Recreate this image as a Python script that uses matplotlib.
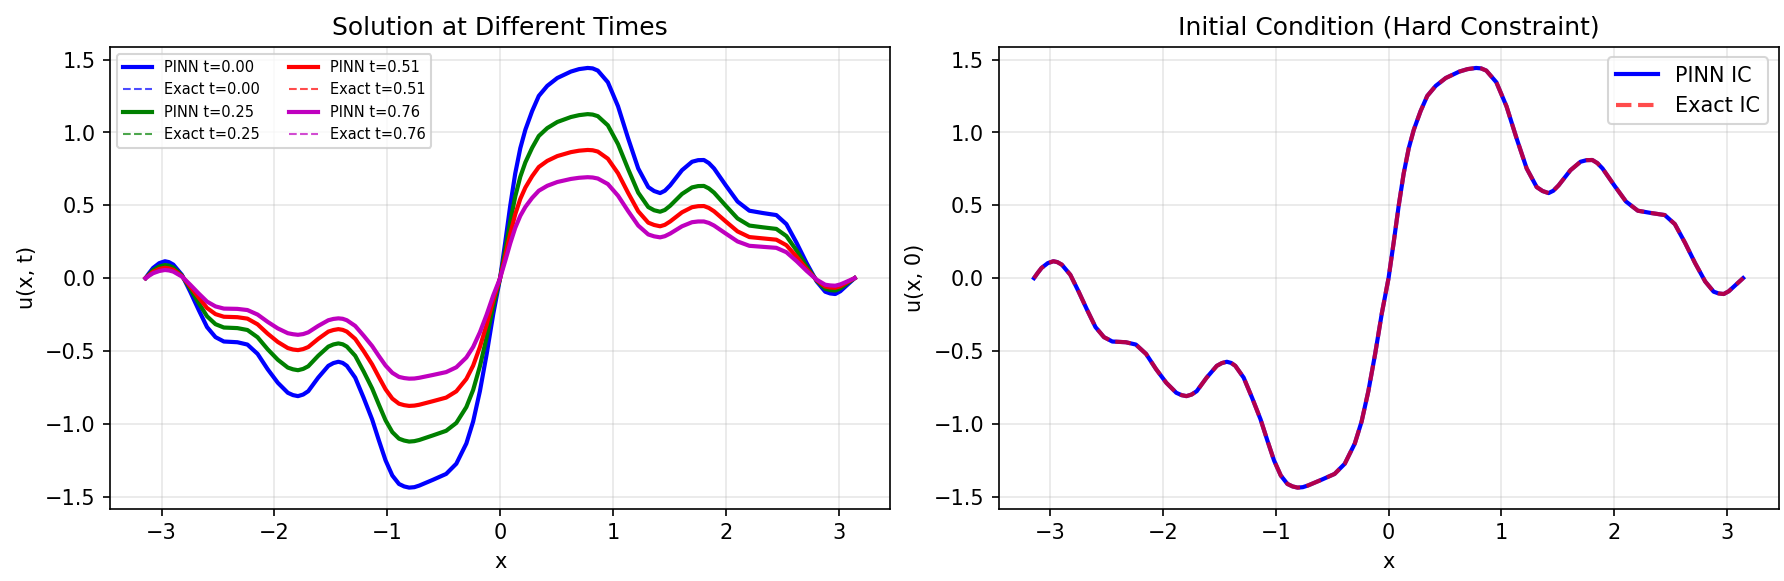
import numpy as np
import matplotlib
matplotlib.use("Agg")
import matplotlib.pyplot as plt

# x grid
x = [-3.142, -3.11, -3.075, -3.02, -2.97, -2.935, -2.896, -2.82, -2.746, -2.67,
     -2.597, -2.522, -2.448, -2.328, -2.239, -2.149, -2.06, -1.97, -1.881, -1.835,
     -1.791, -1.745, -1.70, -1.612, -1.522, -1.477, -1.433, -1.395, -1.358, -1.284,
     -1.209, -1.134, -1.075, -1.015, -0.955, -0.896, -0.85, -0.806, -0.76, -0.716,
     -0.597, -0.478, -0.388, -0.299, -0.239, -0.179, -0.119, -0.06, 0.0, 0.045,
     0.09, 0.134, 0.179, 0.224, 0.284, 0.343, 0.418, 0.507, 0.627, 0.70,
     0.776, 0.82, 0.866, 0.955, 1.045, 1.134, 1.224, 1.313, 1.365, 1.418,
     1.46, 1.507, 1.612, 1.701, 1.755, 1.806, 1.85, 1.896, 2.0, 2.104,
     2.209, 2.328, 2.448, 2.537, 2.627, 2.716, 2.806, 2.881, 2.925, 2.97,
     3.015, 3.06, 3.142]

# u(x, t) at t = 0.00 (also the initial condition)
u_t000 = [0.0, 0.035, 0.07, 0.103, 0.116, 0.110, 0.093, 0.023, -0.093, -0.22,
          -0.336, -0.405, -0.435, -0.44, -0.456, -0.52, -0.625, -0.718, -0.787, -0.803,
          -0.81, -0.799, -0.776, -0.683, -0.602, -0.583, -0.574, -0.582, -0.602, -0.683,
          -0.822, -0.97, -1.112, -1.251, -1.355, -1.413, -1.430, -1.438, -1.435, -1.424,
          -1.385, -1.344, -1.274, -1.135, -0.985, -0.776, -0.521, -0.243, 0.0, 0.243,
          0.498, 0.718, 0.892, 1.019, 1.147, 1.251, 1.320, 1.374, 1.418, 1.435,
          1.443, 1.440, 1.425, 1.345, 1.180, 0.961, 0.753, 0.625, 0.598, 0.584,
          0.600, 0.637, 0.741, 0.799, 0.81, 0.811, 0.79, 0.753, 0.637, 0.526,
          0.463, 0.447, 0.433, 0.371, 0.243, 0.104, -0.023, -0.093, -0.105, -0.109,
          -0.09, -0.058, 0.0]

# t = 0.25
u_t025 = [0.0, 0.027, 0.055, 0.080, 0.09, 0.086, 0.073, 0.018, -0.073, -0.172,
          -0.262, -0.316, -0.339, -0.343, -0.356, -0.406, -0.488, -0.56, -0.614, -0.626,
          -0.632, -0.623, -0.605, -0.533, -0.47, -0.455, -0.448, -0.454, -0.47, -0.533,
          -0.641, -0.757, -0.867, -0.976, -1.057, -1.102, -1.115, -1.122, -1.119, -1.111,
          -1.08, -1.048, -0.994, -0.885, -0.768, -0.605, -0.406, -0.19, 0.0, 0.19,
          0.388, 0.56, 0.696, 0.795, 0.895, 0.976, 1.03, 1.072, 1.106, 1.119,
          1.126, 1.123, 1.112, 1.049, 0.92, 0.75, 0.587, 0.488, 0.466, 0.456,
          0.468, 0.497, 0.578, 0.623, 0.632, 0.633, 0.616, 0.587, 0.497, 0.41,
          0.361, 0.349, 0.338, 0.289, 0.19, 0.081, -0.018, -0.073, -0.082, -0.085,
          -0.07, -0.045, 0.0]

# t = 0.51
u_t051 = [0.0, 0.021, 0.043, 0.063, 0.071, 0.067, 0.057, 0.014, -0.057, -0.134,
          -0.205, -0.247, -0.265, -0.268, -0.278, -0.317, -0.381, -0.438, -0.48, -0.49,
          -0.494, -0.487, -0.473, -0.417, -0.367, -0.356, -0.35, -0.355, -0.367, -0.417,
          -0.501, -0.592, -0.678, -0.763, -0.827, -0.862, -0.872, -0.877, -0.875, -0.869,
          -0.845, -0.82, -0.777, -0.692, -0.601, -0.473, -0.318, -0.148, 0.0, 0.148,
          0.304, 0.438, 0.544, 0.622, 0.7, 0.763, 0.805, 0.838, 0.865, 0.875,
          0.88, 0.878, 0.869, 0.82, 0.72, 0.586, 0.459, 0.381, 0.365, 0.356,
          0.366, 0.389, 0.452, 0.487, 0.494, 0.495, 0.482, 0.459, 0.389, 0.321,
          0.282, 0.273, 0.264, 0.226, 0.148, 0.063, -0.014, -0.057, -0.064, -0.066,
          -0.055, -0.035, 0.0]

# t = 0.76
u_t076 = [0.0, 0.017, 0.034, 0.049, 0.056, 0.053, 0.045, 0.011, -0.045, -0.106,
          -0.161, -0.194, -0.209, -0.211, -0.219, -0.25, -0.3, -0.345, -0.378, -0.385,
          -0.389, -0.384, -0.372, -0.328, -0.289, -0.28, -0.276, -0.279, -0.289, -0.328,
          -0.395, -0.466, -0.534, -0.6, -0.65, -0.678, -0.686, -0.69, -0.689, -0.684,
          -0.665, -0.645, -0.612, -0.545, -0.473, -0.372, -0.25, -0.117, 0.0, 0.117,
          0.239, 0.345, 0.428, 0.489, 0.551, 0.6, 0.634, 0.66, 0.681, 0.689,
          0.693, 0.691, 0.684, 0.646, 0.566, 0.461, 0.361, 0.3, 0.287, 0.28,
          0.288, 0.306, 0.356, 0.384, 0.389, 0.389, 0.379, 0.361, 0.306, 0.252,
          0.222, 0.215, 0.208, 0.178, 0.117, 0.05, -0.011, -0.045, -0.05, -0.052,
          -0.043, -0.028, 0.0]

times = ["0.00", "0.25", "0.51", "0.76"]
pinn_series = [u_t000, u_t025, u_t051, u_t076]
exact_series = [u_t000, u_t025, u_t051, u_t076]  # visually identical to PINN
colors = ["b", "g", "r", "m"]

fig, (ax1, ax2) = plt.subplots(1, 2, figsize=(11.894, 3.874), dpi=150)
fig.subplots_adjust(left=0.0617, right=0.9969, bottom=0.1246, top=0.919, wspace=0.139)

# Left: solution at different times
for t, up, ue, c in zip(times, pinn_series, exact_series, colors):
    ax1.plot(x, up, color=c, lw=2, label=f"PINN t={t}")
    ax1.plot(x, ue, color=c, ls="--", lw=1, alpha=0.7, label=f"Exact t={t}")
ax1.set_xlabel("x")
ax1.set_ylabel("u(x, t)")
ax1.set_title("Solution at Different Times")
ax1.legend(ncol=2, fontsize=7, loc="upper left")
ax1.grid(True, alpha=0.3)

# Right: initial condition
ax2.plot(x, u_t000, "b-", lw=2, label="PINN IC")
ax2.plot(x, u_t000, "r--", lw=2, alpha=0.7, label="Exact IC")
ax2.set_xlabel("x")
ax2.set_ylabel("u(x, 0)")
ax2.set_title("Initial Condition (Hard Constraint)")
ax2.legend(loc="upper right")
ax2.grid(True, alpha=0.3)

plt.savefig("out.png", dpi=150)
